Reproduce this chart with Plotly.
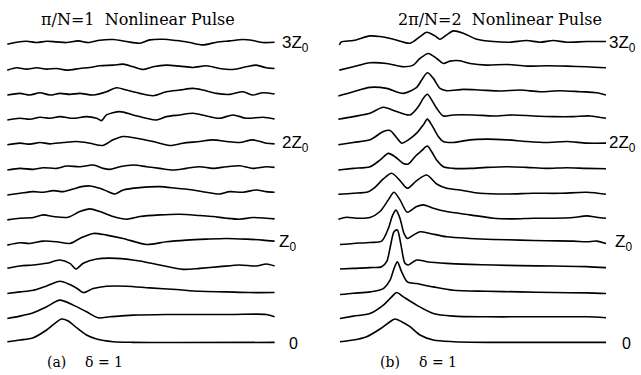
import plotly.graph_objects as go

# Field amplitude u(t) at successive propagation distances z = k * Z0/4.
# Each row: (retarded time, amplitude) pairs, arbitrary units.

# ---- (a) pi/N = 1 ----
a0 = [(22, 0), (60, 5), (100, 12), (140, 35), (165, 55), (185, 68), (205, 62), (230, 42), (260, 20), (290, 8), (340, 0), (400, -2), (825, -2)]
a1 = [(22, -5), (60, 2), (100, 12), (140, 30), (180, 50), (220, 35), (260, 15), (295, -3), (330, 0), (400, 5), (500, 7), (600, 7), (700, 7), (800, 7), (825, 0)]
a2 = [(22, -5), (60, 0), (100, 5), (140, 18), (180, 32), (210, 22), (235, 8), (250, -2), (280, 10), (320, 17), (380, 17), (450, 12), (530, 7), (600, 2), (680, 0), (750, -2), (825, -2)]
a3 = [(22, -4), (60, 3), (100, 6), (140, 11), (180, 21), (210, 11), (228, -6), (250, 11), (290, 24), (350, 26), (420, 18), (480, 6), (550, -7), (600, -4), (660, 1), (720, 6), (770, 3), (800, 9), (825, 3)]
a4 = [(22, -9), (60, -2), (90, -4), (130, 3), (170, 1), (210, -4), (240, 11), (280, 26), (320, 21), (370, 11), (440, -7), (500, 1), (560, 6), (620, 9), (680, 11), (740, 9), (790, 6), (825, 3)]
a5 = [(22, -8), (60, -3), (100, -1), (130, 7), (160, 2), (205, 0), (240, 17), (270, 25), (300, 17), (340, 2), (380, -6), (420, 2), (480, 7), (540, 9), (600, 5), (640, 2), (680, -3), (720, -6), (760, -1), (800, -3), (825, -5)]
a6 = [(22, -8), (60, -3), (100, 2), (130, 0), (160, 5), (190, 2), (220, 10), (245, 17), (270, 19), (300, 12), (325, 2), (345, -5), (370, 7), (420, 14), (480, 17), (530, 12), (580, 7), (620, 0), (660, -5), (690, 2), (730, 0), (770, 7), (800, 2), (825, 0)]
a7 = [(22, -8), (60, -3), (100, -6), (130, -1), (170, -3), (200, 4), (240, 2), (280, 7), (310, -3), (330, -6), (360, 2), (400, 7), (440, 2), (480, -3), (520, -8), (560, -3), (600, 2), (640, -3), (680, 2), (720, 5), (760, -3), (800, 2), (825, 0)]
a8 = [(22, -7), (60, -2), (90, -5), (120, 0), (150, -4), (190, 0), (230, 3), (270, -2), (308, -9), (340, 8), (370, 18), (410, 13), (460, 3), (510, -9), (550, -2), (600, 3), (640, 8), (680, 3), (720, 0), (760, 8), (800, -2), (825, -4)]
a9 = [(22, -7), (60, -2), (90, -5), (120, 1), (150, -2), (180, 3), (220, -2), (260, 3), (290, -2), (305, -9), (320, 8), (360, 18), (400, 8), (440, -2), (470, -7), (500, 3), (540, 8), (580, 13), (620, 5), (660, -2), (700, 8), (740, -2), (790, 1), (825, -4)]
a10 = [(22, -7), (60, -2), (90, -7), (120, 0), (150, -7), (180, -2), (210, -5), (240, -2), (280, -7), (320, 3), (350, 15), (380, 8), (420, -2), (460, -9), (500, 3), (540, 8), (580, 13), (610, 8), (650, -2), (690, -5), (730, 3), (760, -7), (790, 0), (825, -4)]
a11 = [(22, -7), (50, 0), (80, -4), (110, 0), (140, -4), (170, -2), (200, -7), (240, -2), (270, 1), (300, 6), (340, 8), (370, 11), (400, 3), (430, -5), (460, 3), (500, 8), (540, 5), (580, 1), (620, 6), (660, -2), (700, -5), (740, 3), (770, 8), (800, 0), (825, -2)]
a12 = [(22, -4), (50, 2), (80, 5), (110, 1), (140, 5), (170, 3), (200, 1), (235, 6), (265, 1), (300, 8), (340, 10), (380, 4), (420, -1), (450, 9), (490, 11), (530, 7), (570, 1), (610, -6), (650, 2), (690, 6), (730, 10), (760, 7), (790, 1), (825, 2)]

# ---- (b) 2pi/N = 2 ----
b0 = [(60, 0), (100, 5), (140, 15), (180, 38), (210, 60), (225, 68), (245, 60), (270, 45), (300, 20), (340, 5), (400, 0), (500, -2), (858, -2)]
b1 = [(60, -5), (100, 2), (150, 10), (190, 35), (215, 60), (230, 73), (250, 60), (290, 35), (340, 10), (400, 2), (500, 0), (600, 0), (700, 0), (800, 0), (858, -3)]
b2 = [(60, -8), (100, -4), (150, 0), (190, 10), (210, 35), (222, 70), (232, 90), (245, 60), (262, 30), (290, 25), (340, 15), (400, 5), (500, 2), (600, 0), (700, -2), (800, -3), (858, -5)]
b3 = [(60, -6), (100, -4), (150, -2), (185, 1), (200, 16), (212, 66), (222, 106), (232, 111), (242, 71), (255, 11), (265, 6), (290, 21), (320, 16), (380, 11), (450, 8), (520, 6), (600, 4), (700, 3), (800, 1), (858, -2)]
b4 = [(60, -7), (100, -4), (150, -1), (185, 3), (205, 41), (218, 81), (228, 96), (240, 71), (252, 26), (262, 11), (280, 21), (300, 31), (330, 26), (380, 16), (450, 11), (520, 8), (600, 6), (680, 4), (760, 3), (800, 1), (830, 3), (858, -4)]
b5 = [(55, -6), (80, 0), (110, -3), (150, -1), (180, 17), (205, 52), (222, 75), (240, 52), (262, 15), (290, 32), (310, 37), (340, 27), (380, 17), (450, 7), (520, -3), (580, -5), (640, -3), (700, -3), (760, -1), (800, 4), (830, 0), (858, -3)]
b6 = [(55, -6), (100, -3), (145, 2), (165, 15), (190, 40), (215, 57), (240, 35), (262, 12), (290, 35), (320, 52), (350, 25), (380, 12), (420, 7), (480, -3), (560, -5), (640, -3), (720, -3), (800, 0), (858, -6)]
b7 = [(55, -8), (100, -3), (150, 2), (180, 22), (205, 42), (225, 32), (250, 12), (265, 10), (285, 32), (305, 50), (322, 64), (335, 47), (350, 22), (370, 2), (400, -3), (450, -3), (500, 0), (560, 2), (620, 0), (680, -3), (740, -1), (800, -3), (858, -4)]
b8 = [(55, -7), (100, 0), (150, 8), (190, 33), (210, 36), (235, 8), (245, -2), (265, 8), (290, 28), (310, 53), (322, 70), (335, 53), (355, 18), (370, 3), (400, 0), (450, 8), (500, 10), (560, 8), (620, 3), (680, 0), (740, 3), (800, -2), (858, -2)]
b9 = [(55, -5), (100, 3), (150, 13), (190, 31), (230, 18), (270, 8), (295, 33), (310, 58), (322, 70), (335, 53), (350, 28), (370, 5), (400, 8), (460, 8), (520, 5), (580, 8), (640, 5), (700, 3), (760, 3), (810, 5), (858, -2)]
b10 = [(55, -10), (100, 3), (150, 16), (200, 13), (250, -2), (290, 16), (305, 38), (322, 60), (340, 43), (360, 13), (380, 6), (430, 10), (480, 8), (540, 5), (600, 8), (660, 3), (720, 6), (780, 3), (830, 0), (858, -7)]
b11 = [(58, -7), (100, 3), (150, 15), (200, 13), (250, 3), (280, 8), (300, 28), (325, 43), (350, 28), (370, 13), (390, 20), (420, 21), (450, 13), (500, 8), (560, 10), (620, 5), (680, 6), (740, 5), (800, 3), (858, 0)]
b12 = [(58, -6), (64, 3), (100, 7), (150, 21), (180, 19), (220, 11), (270, -1), (300, 19), (320, 32), (345, 21), (360, 11), (380, 24), (400, 36), (430, 29), (470, 11), (520, 4), (570, 2), (620, 7), (660, 2), (700, 7), (740, 2), (800, 4), (858, 4)]

rows_a = [a0, a1, a2, a3, a4, a5, a6, a7, a8, a9, a10, a11, a12]
rows_b = [b0, b1, b2, b3, b4, b5, b6, b7, b8, b9, b10, b11, b12]

# distance labels on every fourth row
label_rows = [0, 4, 8, 12]
label_text = ["0", "Z<sub>0</sub>", "2Z<sub>0</sub>", "3Z<sub>0</sub>"]

row_step = 74.7          # vertical offset between successive distances
SERIF = "DejaVu Serif"
SANS = "Liberation Sans"

fig = go.Figure()

for rows, xa, ya in [(rows_a, "x", "y"), (rows_b, "x2", "y2")]:
    for k, row in enumerate(rows):
        t = [p[0] for p in row]
        u = [p[1] + k * row_step for p in row]
        fig.add_trace(go.Scatter(
            x=t, y=u, mode="lines", xaxis=xa, yaxis=ya,
            line=dict(color="black", width=1.6, shape="spline", smoothing=0.8),
            hoverinfo="skip", showlegend=False,
        ))

annotations = []
label_left = {"x": [861, 831, 840, 840], "x2": [900, 880, 862, 862]}
for xref, yref in [("x", "y"), ("x2", "y2")]:
    for i, (k, txt) in enumerate(zip(label_rows, label_text)):
        annotations.append(dict(
            x=label_left[xref][i], y=k * row_step - 4, xref=xref, yref=yref, text=txt,
            showarrow=False, xanchor="left", yanchor="middle",
            font=dict(family=SANS, size=16 if i == 0 else 17, color="black"),
        ))

nb = "\u00a0"
annotations += [
    dict(x=415, y=966, xref="x", yref="y", text="π/N=1" + nb * 2 + "Nonlinear Pulse",
         showarrow=False, xanchor="center", yanchor="middle",
         font=dict(family=SERIF, size=16, color="black")),
    dict(x=540, y=966, xref="x2", yref="y2", text="2π/N=2" + nb * 2 + "Nonlinear Pulse",
         showarrow=False, xanchor="center", yanchor="middle",
         font=dict(family=SERIF, size=16, color="black")),
]
for xref, yref, tag, x_tag, x_delta in [("x", "y", "(a)", 135, 250), ("x2", "y2", "(b)", 175, 290)]:
    annotations.append(dict(x=x_tag, y=-60, xref=xref, yref=yref, text=tag,
                            showarrow=False, xanchor="left", yanchor="middle",
                            font=dict(family=SERIF, size=14, color="black")))
    annotations.append(dict(x=x_delta, y=-60, xref=xref, yref=yref, text="δ = 1",
                            showarrow=False, xanchor="left", yanchor="middle",
                            font=dict(family=SERIF, size=14, color="black")))

hidden = dict(visible=False, showgrid=False, zeroline=False, fixedrange=True)
fig.update_layout(
    width=641, height=375,
    margin=dict(l=0, r=0, t=0, b=0),
    paper_bgcolor="white", plot_bgcolor="white",
    xaxis=dict(domain=[0, 320 / 641], range=[0, 961.5], **hidden),
    xaxis2=dict(domain=[320 / 641, 1], range=[0, 963], **hidden),
    yaxis=dict(domain=[0, 1], range=[-99.9, 1025.1], **hidden),
    yaxis2=dict(domain=[0, 1], range=[-99.9, 1025.1], anchor="x2", **hidden),
    annotations=annotations,
)

fig.write_html("out.html")
